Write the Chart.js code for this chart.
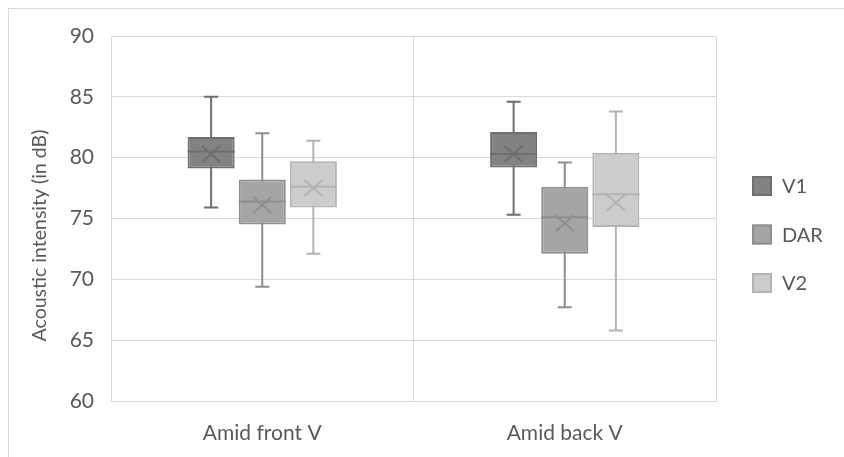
<!DOCTYPE html>
<html>
<head>
<meta charset="utf-8">
<script src="https://cdn.jsdelivr.net/npm/chart.js@4.4.1/dist/chart.umd.min.js"></script>
<style>
  html, body { margin: 0; padding: 0; background: #fff; overflow: hidden; }
  .frame { position: absolute; left: 8px; top: 8px; width: 1000px; height: 1000px; border: 1px solid #d9d9d9; }
  #chart { position: absolute; left: 0; top: 0; }
</style>
</head>
<body>
<div class="frame"></div>
<canvas id="chart" width="844" height="457"></canvas>
<script>
const categories = ['Amid front V', 'Amid back V'];
const seriesNames = ['V1', 'DAR', 'V2'];

// box plot stats per series, one value per category
const v1Min = [75.9, 75.3];
const v1Q1 = [79.1, 79.2];
const v1Median = [80.5, 80.3];
const v1Q3 = [81.7, 82.1];
const v1Max = [85.0, 84.6];
const v1Mean = [80.3, 80.3];

const darMin = [69.4, 67.7];
const darQ1 = [74.5, 72.1];
const darMedian = [76.4, 75.1];
const darQ3 = [78.2, 77.6];
const darMax = [82.0, 79.6];
const darMean = [76.1, 74.6];

const v2Min = [72.1, 65.8];
const v2Q1 = [75.9, 74.3];
const v2Median = [77.6, 77.0];
const v2Q3 = [79.7, 80.4];
const v2Max = [81.4, 83.8];
const v2Mean = [77.5, 76.3];

const yMin = 60;
const yMax = 90;
const yStep = 5;

const fills = ['#828282', '#a5a5a5', '#cccccc'];
const lines = ['#6e6e6e', '#8e8e8e', '#b3b3b3'];
const textColor = '#595959';
const font = 'Lato';

function makeSet(i, q1, q3, min, max, median, mean) {
  return {
    label: seriesNames[i],
    data: categories.map((c, k) => [q1[k], q3[k]]),
    backgroundColor: fills[i],
    borderColor: lines[i],
    borderWidth: 2,
    borderSkipped: false,
    categoryPercentage: 0.507,
    barPercentage: 0.92,
    whiskerMin: min,
    whiskerMax: max,
    median: median,
    mean: mean
  };
}

const boxPlot = {
  id: 'boxPlot',
  beforeDatasetsDraw(chart) {
    const ctx = chart.ctx;
    const y = chart.scales.y;
    chart.data.datasets.forEach((ds, i) => {
      const meta = chart.getDatasetMeta(i);
      meta.data.forEach((bar, k) => {
        const top = y.getPixelForValue(ds.whiskerMax[k]);
        const bot = y.getPixelForValue(ds.whiskerMin[k]);
        const cap = 7;
        ctx.save();
        ctx.strokeStyle = ds.borderColor;
        ctx.lineWidth = 2;
        ctx.beginPath();
        ctx.moveTo(bar.x, top);
        ctx.lineTo(bar.x, bot);
        ctx.moveTo(bar.x - cap, top);
        ctx.lineTo(bar.x + cap, top);
        ctx.moveTo(bar.x - cap, bot);
        ctx.lineTo(bar.x + cap, bot);
        ctx.stroke();
        ctx.restore();
      });
    });
  },
  afterDatasetsDraw(chart) {
    const ctx = chart.ctx;
    const y = chart.scales.y;
    chart.data.datasets.forEach((ds, i) => {
      const meta = chart.getDatasetMeta(i);
      meta.data.forEach((bar, k) => {
        const half = bar.width / 2;
        const med = y.getPixelForValue(ds.median[k]);
        const mn = y.getPixelForValue(ds.mean[k]);
        ctx.save();
        ctx.strokeStyle = ds.borderColor;
        ctx.lineWidth = 2;
        ctx.beginPath();
        ctx.moveTo(bar.x - half, med);
        ctx.lineTo(bar.x + half, med);
        ctx.moveTo(bar.x - 9, mn - 8);
        ctx.lineTo(bar.x + 9, mn + 8);
        ctx.moveTo(bar.x - 9, mn + 8);
        ctx.lineTo(bar.x + 9, mn - 8);
        ctx.stroke();
        ctx.restore();
      });
    });
  },
  afterDraw(chart) {
    const ctx = chart.ctx;
    const area = chart.chartArea;
    // y axis title
    ctx.save();
    ctx.translate(40, (area.top + area.bottom) / 2 + 17);
    ctx.rotate(-Math.PI / 2);
    ctx.font = '19.5px ' + font;
    ctx.fillStyle = textColor;
    ctx.textAlign = 'center';
    ctx.textBaseline = 'middle';
    ctx.fillText('Acoustic intensity (in dB)', 0, 0);
    ctx.restore();
    // legend on the right
    const x0 = area.right + 36;
    ctx.save();
    ctx.font = '20px ' + font;
    ctx.textBaseline = 'middle';
    chart.data.datasets.forEach((ds, i) => {
      const cy = 186 + i * 48.5;
      ctx.fillStyle = ds.backgroundColor;
      ctx.fillRect(x0, cy - 10, 20, 20);
      ctx.strokeStyle = ds.borderColor;
      ctx.lineWidth = 2;
      ctx.strokeRect(x0 + 1, cy - 9, 18, 18);
      ctx.fillStyle = textColor;
      ctx.fillText(ds.label, x0 + 30, cy + 1);
    });
    ctx.restore();
  }
};

new Chart(document.getElementById('chart'), {
  type: 'bar',
  data: {
    labels: categories,
    datasets: [
      makeSet(0, v1Q1, v1Q3, v1Min, v1Max, v1Median, v1Mean),
      makeSet(1, darQ1, darQ3, darMin, darMax, darMedian, darMean),
      makeSet(2, v2Q1, v2Q3, v2Min, v2Max, v2Median, v2Mean)
    ]
  },
  options: {
    responsive: false,
    animation: false,
    layout: { padding: { left: 8, top: 36, right: 128, bottom: 0 } },
    plugins: {
      legend: { display: false },
      tooltip: { enabled: false }
    },
    scales: {
      x: {
        offset: true,
        grid: { offset: true, color: '#d9d9d9', drawTicks: false },
        border: { color: '#d9d9d9' },
        ticks: { color: textColor, font: { family: font, size: 21 }, padding: 20 },
        afterFit(scale) { scale.height = 56; }
      },
      y: {
        min: yMin,
        max: yMax,
        ticks: { stepSize: yStep, color: textColor, font: { family: font, size: 21 }, padding: 17 },
        grid: { color: '#d9d9d9', drawTicks: false },
        border: { color: '#d9d9d9' },
        afterFit(scale) { scale.width = 103; }
      }
    }
  },
  plugins: [boxPlot]
});
</script>
</body>
</html>
